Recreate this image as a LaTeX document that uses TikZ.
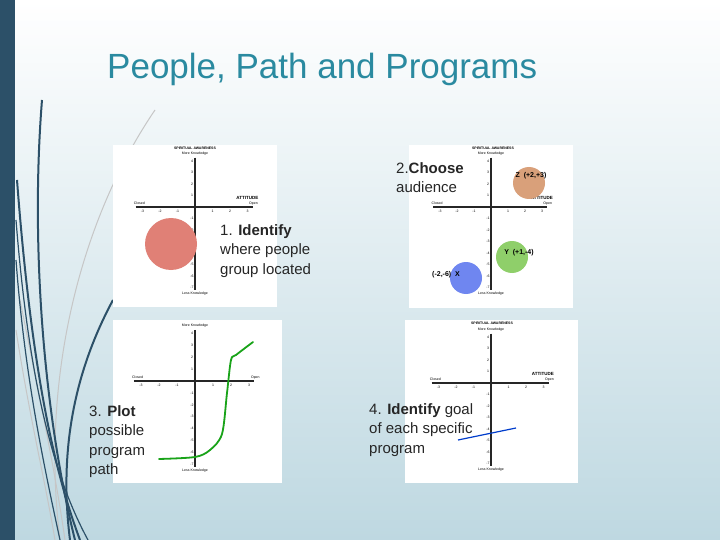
\documentclass[tikz,border=0pt]{standalone}
\usepackage{fontspec}
\setmainfont{Liberation Sans}
\begin{document}
\begin{tikzpicture}[x=1pt,y=-1pt,
  lbl/.style={font=\fontsize{15}{19.5}\selectfont,text=black!85,align=left,anchor=north west,inner sep=0pt},
  tiny/.style={font=\fontsize{3.5}{4}\selectfont,inner sep=0pt},
  axis/.style={line width=1.6pt,black!85},
  deco/.style={line width=2pt,draw=bar},
  decol/.style={line width=1pt,draw=white!55!gray}]
\definecolor{bar}{HTML}{2C5068}
\definecolor{ttl}{HTML}{2A8AA0}
\useasboundingbox (0,0) rectangle (720,540);
\shade[top color=white,bottom color={rgb,255:red,190;green,216;blue,225}] (0,0) rectangle (720,540);
\fill[bar] (0,0) rectangle (15,540);
% decorative curves
\draw[decol] (155,110) .. controls (80,220) and (40,380) .. (60,540);
\draw[decol] (20,300) .. controls (40,400) and (55,470) .. (65,540);
\draw[decol] (16,330) .. controls (30,420) and (45,480) .. (55,540);
\draw[deco] (42,100) .. controls (30,250) and (45,420) .. (75,540);
\draw[deco] (17,180) .. controls (30,350) and (50,460) .. (80,540);
\draw[deco] (113,300) .. controls (70,380) and (60,460) .. (70,540);
\draw[deco,line width=1.2pt] (16,260) .. controls (25,380) and (45,470) .. (60,540);
\draw[deco,line width=1.2pt] (16,220) .. controls (28,370) and (50,470) .. (88,540);
\node[font=\fontsize{35}{40}\selectfont,text=ttl,anchor=west,inner sep=0pt] (title) at (107,69) {People, Path and Programs};
\newcommand{\mychart}[9]{%
  \fill[white] (#2,#3) rectangle (#4,#5);
  \coordinate (#1o) at (#6,#7);
  \draw[axis] (#6-3.4*#8,#7) -- (#6+3.3*#8,#7);
  \draw[axis] (#6,#7-4.3*#9) -- (#6,#7+7.2*#9);
  \foreach \i in {-3,...,3}{\ifnum\i=0\else\node[tiny] at (#6+\i*#8,#7+4) {\i};\fi}
  \foreach \i in {-7,...,4}{\ifnum\i=0\else\node[tiny] at (#6-3,#7-\i*#9) {\i};\fi}
  \node[tiny,anchor=south] at (#6,#7-4.5*#9) {More Knowledge};
  \node[tiny,anchor=north] at (#6,#7+7.4*#9) {Less Knowledge};
  \node[tiny,anchor=south west] at (#6-3.5*#8,#7-2) {Closed};
  \node[tiny,anchor=south east] at (#6+3.6*#8,#7-2) {Open};
}
\mychart{a}{113}{145}{277}{307}{195}{207}{17.5}{11.5}
\node[tiny,font=\fontsize{3.5}{4}\selectfont\bfseries] at (195,148) {SPIRITUAL AWARENESS};
\node[tiny,font=\fontsize{4.5}{5}\selectfont\bfseries,anchor=south east] at (258.5,200) {ATTITUDE};
\fill[fill={rgb,255:red,224;green,128;blue,118}] (171,244) circle (26);
\mychart{b}{409}{145}{573}{308}{491}{207}{17}{11.5}
\node[tiny,font=\fontsize{3.5}{4}\selectfont\bfseries] at (493,148) {SPIRITUAL AWARENESS};
\node[tiny,font=\fontsize{4.5}{5}\selectfont\bfseries,anchor=south east] at (553,200) {ATTITUDE};
\fill[fill={rgb,255:red,217;green,160;blue,122}] (529,183) circle (16);
\fill[fill={rgb,255:red,143;green,207;blue,106}] (512,257) circle (16);
\fill[fill={rgb,255:red,111;green,134;blue,240}] (466,278) circle (16);
\node[font=\fontsize{7}{8}\selectfont\bfseries] (z) at (531,176) {Z\ \ (+2,+3)};
\node[font=\fontsize{7}{8}\selectfont\bfseries] (y) at (519,253) {Y\ \ (+1,-4)};
\node[font=\fontsize{7}{8}\selectfont\bfseries] (x) at (446,275) {(-2,-6)\ \ X};
\mychart{c}{113}{320}{282}{483}{195}{381}{18}{11.9}
\draw[line width=1.8pt,green!60!black!90,line cap=round] plot[smooth,tension=0.5] coordinates {(159,459) (195,457) (210,450) (222,434) (227,393) (231,360) (236,355) (253,342)};
\mychart{d}{405}{320}{578}{483}{491}{383}{17.5}{11.5}
\node[tiny,font=\fontsize{3.5}{4}\selectfont\bfseries] at (492,323) {SPIRITUAL AWARENESS};
\node[tiny,font=\fontsize{4.5}{5}\selectfont\bfseries,anchor=south east] at (554,376) {ATTITUDE};
\draw[line width=1.2pt,blue!70!cyan!80!black] (458,440) -- (516,428);
% labels
\node[lbl] (t2) at (396,162) {2.\textbf{Choose}\\audience};
\node[lbl] (t1) at (220,224) {1. \textbf{Identify}\\where people\\group located};
\node[lbl] (t3) at (89,405) {3. \textbf{Plot}\\possible\\program\\path};
\node[lbl] (t4) at (369,403) {4. \textbf{Identify} goal\\of each specific\\program};
\end{tikzpicture}
\end{document}
